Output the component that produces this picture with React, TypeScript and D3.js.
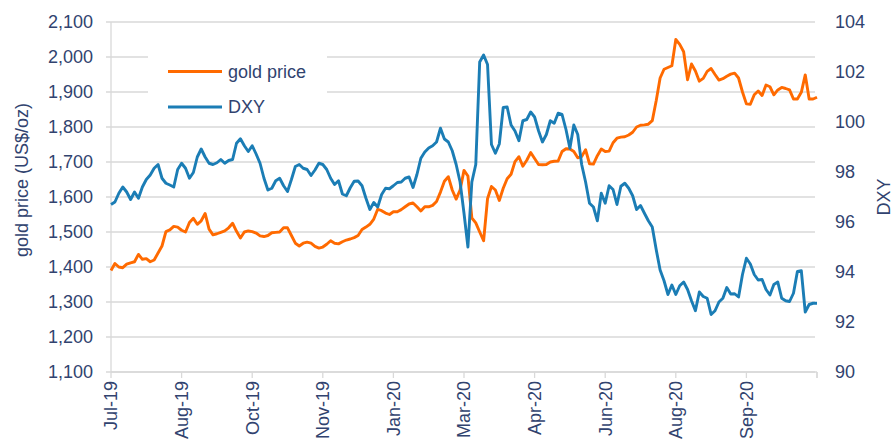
import React from "react";
import * as d3 from "d3";

const xLabels = ["Jul-19","Aug-19","Oct-19","Nov-19","Jan-20","Mar-20","Apr-20","Jun-20","Aug-20","Sep-20"];
const labelEvery = 18;
const goldTicks = [1100,1200,1300,1400,1500,1600,1700,1800,1900,2000,2100];
const dxyTicks = [90,92,94,96,98,100,102,104];

const gold = [1390,1410,1400,1398,1408,1412,1415,1436,1422,1424, 1415,1420,1440,1460,1501,1506,1516,1514,1505,1500, 1527,1539,1522,1532,1553,1508,1492,1495,1499,1503, 1512,1525,1502,1483,1500,1503,1501,1497,1489,1487, 1490,1498,1499,1500,1512,1512,1490,1468,1460,1468, 1471,1468,1459,1454,1457,1465,1475,1468,1466,1472, 1477,1480,1484,1490,1507,1514,1522,1537,1565,1561, 1554,1550,1558,1558,1564,1572,1580,1583,1572,1560, 1572,1572,1576,1587,1614,1645,1658,1620,1594,1620, 1676,1660,1540,1526,1500,1475,1595,1630,1620,1590, 1625,1652,1665,1701,1715,1688,1705,1727,1710,1693, 1692,1693,1700,1702,1703,1730,1738,1737,1730,1712, 1716,1735,1695,1694,1718,1737,1730,1731,1755,1768, 1771,1772,1777,1785,1800,1805,1806,1808,1818,1875, 1940,1965,1970,1975,2050,2036,2015,1935,1980,1960, 1931,1939,1959,1967,1950,1934,1938,1945,1951,1954, 1940,1900,1866,1865,1892,1903,1890,1920,1915,1892, 1906,1913,1910,1906,1880,1880,1899,1949,1880,1880, 1885];

const dxy = [96.7,96.8,97.15,97.4,97.2,96.9,97.2,96.95,97.4,97.7, 97.88,98.15,98.3,97.75,97.55,97.48,97.4,98.1,98.35,98.15, 97.75,97.98,98.6,98.92,98.6,98.35,98.3,98.37,98.5,98.35, 98.46,98.5,99.15,99.33,99.05,98.82,99.05,98.72,98.35,97.75, 97.28,97.35,97.65,97.75,97.45,97.22,97.7,98.22,98.3,98.15, 98.1,97.86,98.08,98.35,98.3,98.1,97.75,97.5,97.65,97.12, 97.05,97.37,97.63,97.64,97.45,96.95,96.5,96.78,96.6,97.1, 97.35,97.33,97.45,97.58,97.6,97.75,97.8,97.38,97.9,98.55, 98.8,98.96,99.05,99.2,99.75,99.32,99.2,98.85,98.3,97.6, 96.35,95.0,97.6,98.3,102.4,102.68,102.3,99.1,98.75,99.12, 100.58,100.6,99.88,99.64,99.25,100.05,100.1,100.4,100.2,99.65, 99.2,99.5,100.05,99.95,100.35,100.3,99.7,98.95,99.88,99.5, 98.3,97.6,96.75,96.6,96.05,97.15,96.75,97.45,97.3,96.7, 97.43,97.55,97.35,97.05,96.5,96.66,96.35,96.05,95.8,94.9, 94.08,93.65,93.1,93.48,93.1,93.45,93.6,93.3,92.85,92.45, 93.2,93.02,92.95,92.3,92.45,92.8,92.95,93.38,93.12,93.13, 93.0,93.9,94.55,94.32,93.9,93.68,93.7,93.3,93.08,93.5, 93.6,92.95,92.85,92.82,93.15,94.02,94.05,92.4,92.7,92.75, 92.75];

const W = 894, H = 448;
const M = { left: 111, right: 817, top: 22, bottom: 372 };
const ORANGE = "#ff6a00";
const BLUE = "#1b7db5";
const TEXT = "#31436f";
const GRID = "#d9d9d9";
const FONT = "'Liberation Sans', Arial, sans-serif";

export default function App() {
  const n = gold.length;
  const x = d3.scaleLinear().domain([0, n - 1]).range([M.left, M.right]);
  const yG = d3.scaleLinear().domain([1100, 2100]).range([M.bottom, M.top]);
  const yD = d3.scaleLinear().domain([90, 104]).range([M.bottom, M.top]);
  const lineG = d3.line<number>().x((_, i) => x(i)).y((d) => yG(d));
  const lineD = d3.line<number>().x((_, i) => x(i)).y((d) => yD(d));
  const fmt = d3.format(",");
  const tickIdx = d3.range(0, n, labelEvery);

  return (
    <svg width={W} height={H} style={{ position: "absolute", left: 0, top: 0, background: "#fff" }} fontFamily={FONT}>
      {goldTicks.map((t) => (
        <line key={"g" + t} x1={M.left - 5} x2={M.right - 2} y1={yG(t)} y2={yG(t)} stroke={GRID} strokeWidth={1.3} />
      ))}
      <line x1={M.left} x2={M.left} y1={M.top} y2={M.bottom} stroke={GRID} strokeWidth={1.3} />
      <line x1={M.left} x2={M.right} y1={M.bottom} y2={M.bottom} stroke={GRID} strokeWidth={1.3} />
      {tickIdx.map((i) => (
        <line key={"xt" + i} x1={x(i)} x2={x(i)} y1={M.bottom} y2={M.bottom + 6} stroke={GRID} strokeWidth={1.3} />
      ))}
      <line x1={M.right} x2={M.right} y1={M.bottom} y2={M.bottom + 6} stroke={GRID} strokeWidth={1.3} />
      {goldTicks.map((t) => (
        <text key={"gl" + t} x={93} y={yG(t)} dy="0.35em" textAnchor="end" fontSize={18} fill={TEXT}>{fmt(t)}</text>
      ))}
      {dxyTicks.map((t) => (
        <text key={"dl" + t} x={835} y={yD(t)} dy="0.35em" textAnchor="start" fontSize={18} fill={TEXT}>{t}</text>
      ))}
      {tickIdx.map((i, k) => (
        <text key={"xl" + i} transform={`translate(${x(i)},${M.bottom + 9}) rotate(-90)`} dy="0.35em" textAnchor="end" fontSize={18} fill={TEXT}>{xLabels[k]}</text>
      ))}
      <text transform={`translate(22,180) rotate(-90)`} dy="0.35em" textAnchor="middle" fontSize={18} fill={TEXT}>gold price (US$/oz)</text>
      <text transform={`translate(884,197) rotate(-90)`} dy="0.35em" textAnchor="middle" fontSize={18} fill={TEXT}>DXY</text>
      <rect x={148} y={45} width={179} height={75} fill="#fff" />
      <line x1={168} x2={222} y1={71.5} y2={71.5} stroke={ORANGE} strokeWidth={3} />
      <text x={228} y={71.5} dy="0.35em" fontSize={18} fill={TEXT}>gold price</text>
      <line x1={168} x2={222} y1={107} y2={107} stroke={BLUE} strokeWidth={3} />
      <text x={228} y={107} dy="0.35em" fontSize={18} fill={TEXT}>DXY</text>
      <path d={lineG(gold) || ""} fill="none" stroke={ORANGE} strokeWidth={2.9} strokeLinejoin="round" />
      <path d={lineD(dxy) || ""} fill="none" stroke={BLUE} strokeWidth={2.9} strokeLinejoin="round" />
    </svg>
  );
}
